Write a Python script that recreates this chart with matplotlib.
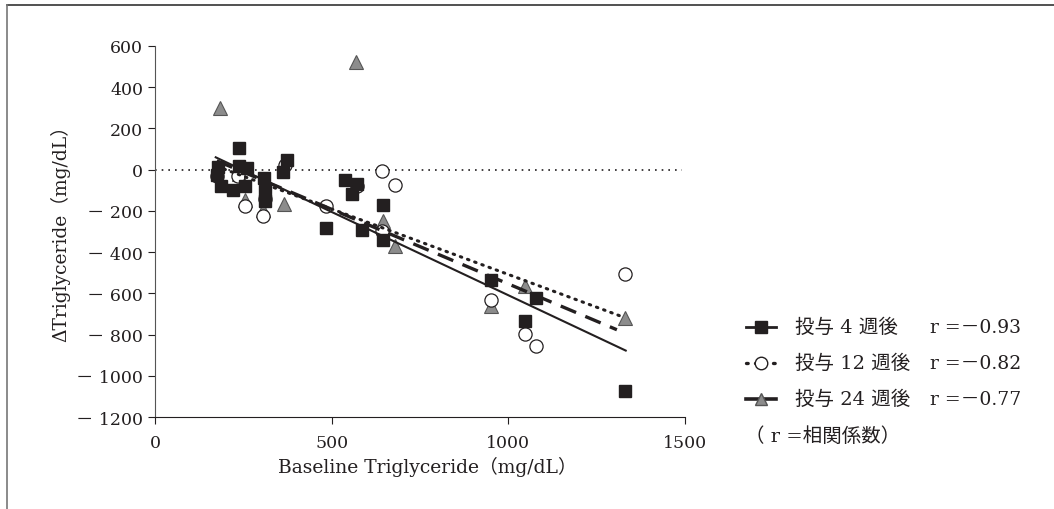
import matplotlib.pyplot as plt
from matplotlib.lines import Line2D

plt.rcParams['font.family'] = ['DejaVu Serif', 'Noto Sans CJK JP']

# baseline TG (x) and change in TG (y)
wk4_x = [238, 179, 175, 239, 260, 187, 220, 255, 308, 311, 311, 373, 363,
         538, 571, 557, 483, 585, 644, 644, 950, 1078, 1047, 1330]
wk4_y = [105, 13, -24, 19, 8, -81, -97, -81, -40, -105, -154, 49, -13,
         -52, -68, -116, -283, -291, -173, -340, -537, -620, -736, -1071]

wk12_x = [175, 235, 255, 307, 311, 368, 483, 571, 643, 679, 643, 950, 1047, 1078, 1330]
wk12_y = [-32, -30, -178, -226, -140, 24, -175, -80, -8, -76, -299, -634, -796, -857, -506]

wk24_x = [185, 570, 239, 255, 307, 365, 644, 679, 950, 1047, 1330]
wk24_y = [299, 523, -19, -146, -197, -165, -251, -372, -663, -566, -720]

# regression line end points
fit4_x, fit4_y = [172, 1332], [60, -877]
fit12_x, fit12_y = [175, 1321], [16, -712]
fit24_x, fit24_y = [175, 1307], [43, -776]

labels = ['投与 4 週後', '投与 12 週後', '投与 24 週後']
r_values = ['r =－0.93', 'r =－0.82', 'r =－0.77']

yticks = [600, 400, 200, 0, -200, -400, -600, -800, -1000, -1200]
ytick_labels = [str(v) if v >= 0 else '－ ' + str(-v) for v in yticks]
xticks = [0, 500, 1000, 1500]

fig = plt.figure(figsize=(10.54, 5.10), dpi=100)
ax = fig.add_axes([0.147, 0.180, 0.503, 0.728])

dark = '#231f20'
grey = '#8c8c8c'

ax.plot([0, 1490], [0, 0], color=dark, lw=1.2, ls=(0, (1, 3)), zorder=1)

ax.plot(wk24_x, wk24_y, ls='none', marker='^', ms=9.5, mfc=grey, mec='#555555', mew=0.8, zorder=2)
ax.plot(wk12_x, wk12_y, ls='none', marker='o', ms=9.5, mfc='white', mec=dark, mew=0.9, zorder=3)
ax.plot(wk4_x, wk4_y, ls='none', marker='s', ms=8.5, mfc=dark, mec=dark, zorder=4)

ax.plot(fit4_x, fit4_y, color=dark, lw=1.5, zorder=5)
ax.plot(fit12_x, fit12_y, color=dark, lw=2.2, ls=(0, (0.5, 2.0)), dash_capstyle='round', zorder=5)
ax.plot(fit24_x, fit24_y, color=dark, lw=2.4, ls=(0, (5, 3)), zorder=5)

ax.set_xlim(0, 1500)
ax.set_ylim(-1200, 600)
ax.set_xticks(xticks)
ax.set_yticks(yticks)
ax.set_yticklabels(ytick_labels)
ax.tick_params(labelsize=12.5, length=5, color=dark, labelcolor=dark)
ax.tick_params(axis='x', pad=7)
for s in ['top', 'right']:
    ax.spines[s].set_visible(False)
ax.spines['left'].set_color('#555555')
ax.spines['bottom'].set_color(dark)

ax.set_xlabel('Baseline Triglyceride（mg/dL）', fontsize=13.5, color=dark, labelpad=5)
ax.set_ylabel('ΔTriglyceride（mg/dL）', fontsize=13.5, color=dark)
ax.xaxis.set_label_coords(0.513, -0.105)
ax.yaxis.set_label_coords(-0.160, 0.51)

# hand-drawn legend to the right of the axes
W, H = 1054.0, 510.0
def fx(px):
    return px / W
def fy(py):
    return 1 - py / H

rows = [328, 364, 400]
styles = [dict(ls='-', lw=2.0, marker='s', mfc=dark, mec=dark, ms=8.5),
          dict(ls=(0, (0.5, 2.2)), lw=2.4, marker='o', mfc='white', mec=dark, ms=9, dash_capstyle='round'),
          dict(ls='-', lw=2.6, marker='^', mfc=grey, mec='#555555', ms=9)]
for py, st, lab, rv in zip(rows, styles, labels, r_values):
    fig.add_artist(Line2D([fx(746), fx(776)], [fy(py), fy(py)], color=dark,
                          transform=fig.transFigure, **{k: v for k, v in st.items() if k not in ('marker', 'mfc', 'mec', 'ms')}))
    fig.add_artist(Line2D([fx(761)], [fy(py)], ls='none', marker=st['marker'], mfc=st['mfc'],
                          mec=st['mec'], ms=st['ms'], transform=fig.transFigure))
    fig.text(fx(795), fy(py), lab, fontsize=14, va='center', color=dark)
    fig.text(fx(930), fy(py), rv, fontsize=13.5, va='center', color=dark)
fig.text(fx(745), fy(437), '（ r =相関係数）', fontsize=14, va='center', color=dark)

# partial frame at top and left
fig.add_artist(Line2D([fx(7), 1], [fy(6), fy(6)], color='#333333', lw=1.2, transform=fig.transFigure))
fig.add_artist(Line2D([fx(7), fx(7)], [fy(6), 0], color='#777777', lw=1.2, transform=fig.transFigure))

fig.savefig('out.png', dpi=100)
